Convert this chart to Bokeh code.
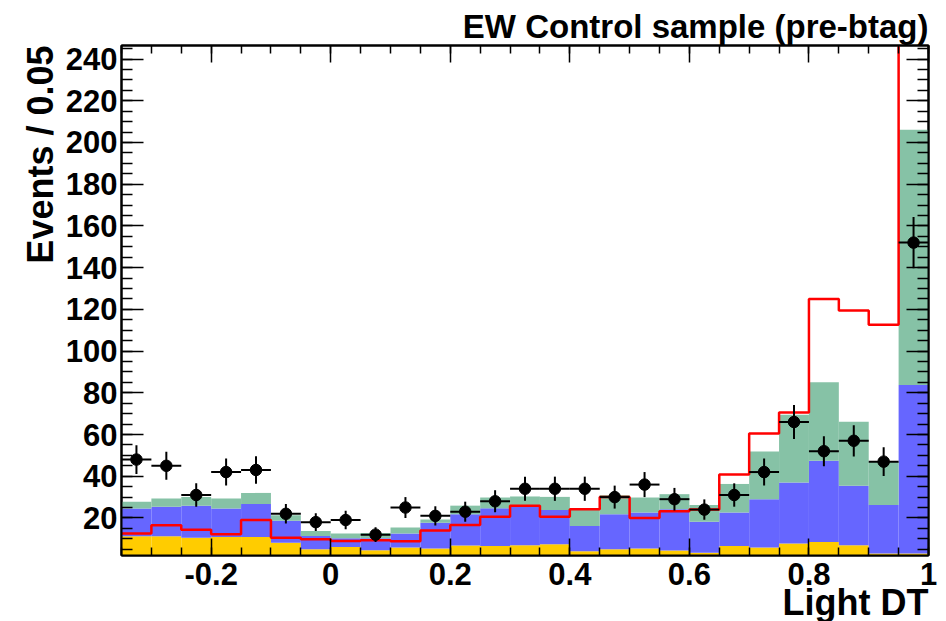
import numpy as np
from bokeh.plotting import figure
from bokeh.models import (ColumnDataSource, Range1d, FixedTicker, LinearAxis, Title)
from bokeh.embed import file_html
from bokeh.resources import INLINE

# ---- data ----
bin_lo, bin_hi, n_bins = -0.35, 1.0, 27

yellow = [11.2, 11.2, 10.5, 10.9, 10.9, 8.1, 5.0, 6.1, 4.5, 5.8, 5.4, 6.8, 6.6, 6.9,
          7.4, 4.0, 5.0, 5.4, 4.4, 3.3, 6.6, 5.8, 7.7, 8.5, 6.9, 2.9, 3.0]
blue = [13.3, 14.2, 15.3, 13.6, 15.8, 10.5, 6.4, 4.2, 5.8, 6.7, 12.3, 15.0, 18.0, 18.6,
        16.4, 12.2, 16.8, 17.2, 19.8, 14.9, 16.0, 23.2, 29.3, 38.9, 28.5, 23.3, 80.7]
green = [3.3, 3.9, 4.3, 4.8, 5.3, 2.7, 2.4, 2.2, 2.5, 2.9, 1.6, 4.1, 5.2, 4.8,
         6.3, 8.0, 9.2, 7.2, 7.2, 8.0, 13.7, 22.8, 32.5, 37.6, 30.7, 20.8, 122.4]
red = [12.5, 16.5, 14.4, 12.2, 19.0, 10.5, 9.8, 9.0, 9.3, 8.8, 14.0, 16.6, 20.6, 25.8,
       20.6, 24.2, 30.0, 20.0, 23.2, 24.0, 40.8, 60.5, 70.6, 125.0, 119.4, 112.6, 300.0]
data = [48, 45, 31, 42, 43, 22, 18, 19, 12, 25, 21, 23, 28, 34, 34, 34, 30, 36, 29, 24,
        31, 42, 66, 52, 57, 47, 152]
data_err = [6.9, 6.7, 5.6, 6.5, 6.6, 4.7, 4.2, 4.4, 3.5, 5.0, 4.6, 4.8, 5.3, 5.8, 5.8,
            5.8, 5.5, 6.0, 5.4, 4.9, 5.6, 6.5, 8.1, 7.2, 7.5, 6.9, 12.3]

x_major = [-0.2, 0, 0.2, 0.4, 0.6, 0.8, 1.0]
x_labels = {-0.2: "-0.2", 0: "0", 0.2: "0.2", 0.4: "0.4", 0.6: "0.6", 0.8: "0.8", 1.0: "1"}
y_major = list(range(20, 241, 20))
y_minor = list(range(5, 246, 5))

# ---- derived bin geometry ----
edges = np.round(np.linspace(bin_lo, bin_hi, n_bins + 1), 4)
width = (bin_hi - bin_lo) / n_bins
centers = (edges[:-1] + edges[1:]) / 2
x_minor = [float(e) for e in edges]

FONT = "Liberation Sans"
y_lo, y_hi = 2, 246.5

p = figure(width=946, height=621, output_backend="svg", toolbar_location=None,
           x_range=Range1d(bin_lo, bin_hi), y_range=Range1d(y_lo, y_hi),
           min_border_left=121, min_border_right=18, min_border_top=45,
           min_border_bottom=66, background_fill_color="white",
           border_fill_color="white")
p.grid.visible = False
p.outline_line_color = "black"
p.outline_line_width = 2

p.title.text = "EW Control sample (pre-btag)"
p.title.align = "right"
p.title.text_font = FONT
p.title.text_font_style = "bold"
p.title.text_font_size = "33px"
p.title.text_color = "black"
p.title.standoff = 2

src = ColumnDataSource(dict(x=centers, yellow=yellow, blue=blue, green=green))
p.vbar_stack(["yellow", "blue", "green"], x="x", width=width, source=src,
             color=["#FFCC00", "#6666FF", "#86C2A6"], line_width=0)

p.step(x=list(edges), y=red + [red[-1]], mode="after", line_color="#FF0000", line_width=2.5)

dsrc = ColumnDataSource(dict(x=centers, y=data,
                             lo=np.array(data) - np.array(data_err),
                             hi=np.array(data) + np.array(data_err),
                             xl=centers - width / 2, xr=centers + width / 2))
p.segment(x0="x", y0="lo", x1="x", y1="hi", source=dsrc, line_color="black", line_width=2)
p.segment(x0="xl", y0="y", x1="xr", y1="y", source=dsrc, line_color="black", line_width=2)
p.scatter(x="x", y="y", source=dsrc, size=11.5, marker="circle", color="black")


def style(ax, ticks, minor, labels=True, maj=17, mnr=8):
    ax.ticker = FixedTicker(ticks=ticks, minor_ticks=minor)
    ax.major_tick_in = maj
    ax.major_tick_out = 0
    ax.minor_tick_in = mnr
    ax.minor_tick_out = 0
    ax.major_tick_line_width = 1.5
    ax.minor_tick_line_width = 1.5
    ax.major_tick_line_color = "black"
    ax.minor_tick_line_color = "black"
    ax.axis_line_width = 2
    ax.axis_line_color = "black"
    ax.major_label_text_font = FONT
    ax.major_label_text_font_style = "bold"
    ax.major_label_text_color = "black"
    ax.major_label_text_font_size = "31px" if labels else "0px"
    ax.major_label_standoff = 6 if labels else 0


xa = p.xaxis[0]
style(xa, x_major, x_minor)
xa.major_label_overrides = x_labels
xa.major_label_standoff = 7

ya = p.yaxis[0]
style(ya, y_major, y_minor, maj=22, mnr=11)
ya.major_label_standoff = 4

top = LinearAxis()
style(top, x_major, x_minor, labels=False)
top.major_label_overrides = {v: "" for v in x_major}
p.add_layout(top, "above")
right = LinearAxis()
style(right, y_major, y_minor, labels=False, maj=22, mnr=11)
right.major_label_overrides = {v: "" for v in y_major}
p.add_layout(right, "right")

xt = Title(text="Light DT", align="right", text_font=FONT, text_font_style="bold",
           text_font_size="36px", text_color="black", standoff=-16)
p.add_layout(xt, "below")
yt = Title(text="Events / 0.05", align="right", text_font=FONT, text_font_style="bold",
           text_font_size="36px", text_color="black", standoff=4)
p.add_layout(yt, "left")

open("out.html", "w").write(file_html(p, INLINE))
